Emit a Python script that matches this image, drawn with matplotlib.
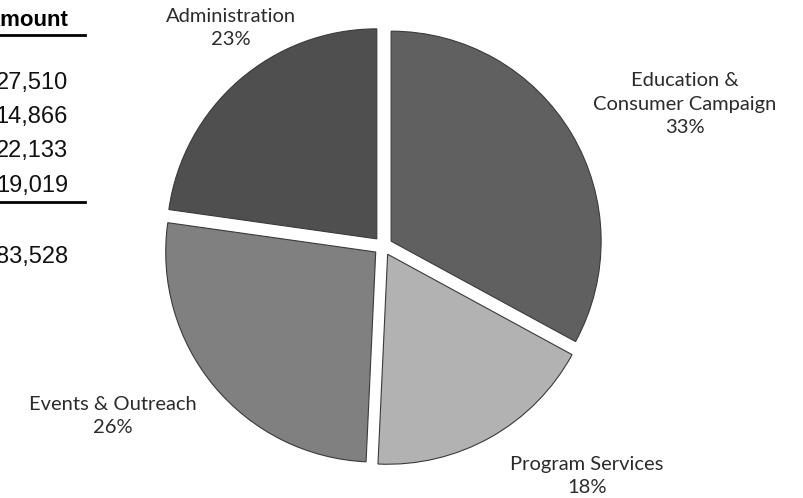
# budget pie: expense categories with the amounts column on the left
import matplotlib
matplotlib.use("Agg")
import matplotlib.pyplot as plt

# data
categories = ['Education &\nConsumer Campaign', 'Program Services', 'Events & Outreach', 'Administration']
amounts = [27510, 14866, 22133, 19019]
slice_colors = ['#606060', '#b2b2b2', '#808080', '#4f4f4f']

total = sum(amounts)
H = 498
R = 210

fig = plt.figure(figsize=(8.04, 4.98), dpi=100)
ax = fig.add_axes([0, 0, 1, 1])

# pie, all slices pulled out a little (explode is in data units here)
ax.pie(amounts, colors=slice_colors, startangle=90, counterclock=False,
       explode=[0.045 * R] * len(amounts), center=(383, H - 246), radius=R,
       wedgeprops=dict(edgecolor='#3a3a3a', linewidth=0.8))

# slice labels (pixel positions from the top left corner)
label_pos = [(685, 104), (587, 476), (113, 416), (231, 28)]
for name, val, (x, y) in zip(categories, amounts, label_pos):
    pct = round(val / total * 100)
    ax.text(x, H - y, f"{name}\n{pct}%", ha='center', va='center',
            fontsize=14.5, family='Lato', color='#2b2b2b', linespacing=1.45)

# amounts column, cut off by the left edge like the original
ax.text(68, H - 20, 'Amount', ha='right', va='center', fontsize=16,
        fontweight='bold', family='Liberation Sans', color='black')
ax.plot([0, 85], [H - 35, H - 35], color='black', lw=2)

row_y = [83, 117, 151, 186]
for val, y in zip(amounts, row_y):
    ax.text(68, H - y, f"{val:,}", ha='right', va='center', fontsize=17,
            family='Liberation Sans', color='#111111')
ax.plot([0, 85], [H - 202, H - 202], color='black', lw=2)
ax.text(68, H - 257, f"{total:,}", ha='right', va='center', fontsize=17,
        family='Liberation Sans', color='#111111')

ax.set_xlim(0, 804)
ax.set_ylim(0, H)
ax.set_aspect('equal')
ax.axis('off')

plt.savefig('out.png', dpi=100)
